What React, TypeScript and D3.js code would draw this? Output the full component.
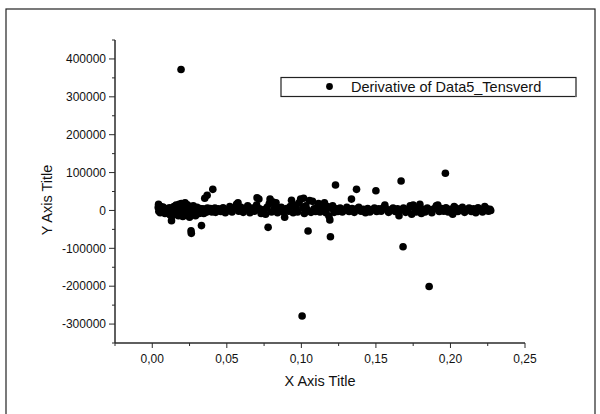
import React from "react";
import * as d3 from "d3";

const seriesName = "Derivative of Data5_Tensverd";
const xTitle = "X Axis Title";
const yTitle = "Y Axis Title";
const xTickValues = [0, 0.05, 0.1, 0.15, 0.2, 0.25];
const xTickLabels = ["0,00", "0,05", "0,10", "0,15", "0,20", "0,25"];
const yTickValues = [-300000, -200000, -100000, 0, 100000, 200000, 300000, 400000];
const yTickLabels = ["-300000", "-200000", "-100000", "0", "100000", "200000", "300000", "400000"];
const xMinorTicks = [-0.025, 0.025, 0.075, 0.125, 0.175, 0.225];
const yMinorTicks = [-350000, -250000, -150000, -50000, 50000, 150000, 250000, 350000, 450000];

const derivX = [
  0.0040, 0.0042, 0.0044, 0.0047, 0.0050, 0.0053, 0.0056, 0.0060, 0.0064, 0.0068,
  0.0072, 0.0076, 0.0080, 0.0085, 0.0090, 0.0095, 0.0100, 0.0105, 0.0110, 0.0115,
  0.0120, 0.0125, 0.0129, 0.0132, 0.0136, 0.0140, 0.0145, 0.0150, 0.0155, 0.0160,
  0.0165, 0.0170, 0.0175, 0.0180, 0.0185, 0.0190, 0.0193, 0.0195, 0.0200, 0.0205,
  0.0210, 0.0215, 0.0220, 0.0225, 0.0230, 0.0235, 0.0240, 0.0245, 0.0250, 0.0255,
  0.0260, 0.0262, 0.0265, 0.0270, 0.0275, 0.0280, 0.0285, 0.0290, 0.0295, 0.0300,
  0.0305, 0.0310, 0.0315, 0.0320, 0.0330, 0.0335, 0.0340, 0.0345, 0.0352, 0.0355,
  0.0360, 0.0368, 0.0370, 0.0375, 0.0380, 0.0385, 0.0390, 0.0395, 0.0400, 0.0406,
  0.0410, 0.0415, 0.0420, 0.0425, 0.0430, 0.0445, 0.0460, 0.0475, 0.0490, 0.0505,
  0.0520, 0.0535, 0.0550, 0.0565, 0.0575, 0.0580, 0.0595, 0.0610, 0.0625, 0.0640,
  0.0655, 0.0670, 0.0685, 0.0700, 0.0703, 0.0715, 0.0720, 0.0730, 0.0745, 0.0760,
  0.0770, 0.0777, 0.0785, 0.0790, 0.0800, 0.0810, 0.0820, 0.0830, 0.0840, 0.0850,
  0.0865, 0.0880, 0.0888, 0.0900, 0.0915, 0.0925, 0.0934, 0.0945, 0.0955, 0.0965,
  0.0975, 0.0985, 0.0995, 0.1005, 0.1010, 0.1015, 0.1020, 0.1030, 0.1040, 0.1045,
  0.1055, 0.1065, 0.1075, 0.1085, 0.1095, 0.1105, 0.1115, 0.1125, 0.1135, 0.1145,
  0.1155, 0.1165, 0.1175, 0.1185, 0.1191, 0.1195, 0.1200, 0.1210, 0.1220, 0.1229,
  0.1235, 0.1245, 0.1260, 0.1275, 0.1290, 0.1305, 0.1320, 0.1336, 0.1340, 0.1355,
  0.1370, 0.1372, 0.1385, 0.1400, 0.1415, 0.1430, 0.1445, 0.1460, 0.1475, 0.1490,
  0.1500, 0.1505, 0.1520, 0.1535, 0.1550, 0.1560, 0.1570, 0.1585, 0.1600, 0.1615,
  0.1630, 0.1645, 0.1655, 0.1669, 0.1670, 0.1682, 0.1685, 0.1700, 0.1715, 0.1730,
  0.1740, 0.1750, 0.1760, 0.1770, 0.1785, 0.1795, 0.1805, 0.1815, 0.1830, 0.1845,
  0.1857, 0.1860, 0.1875, 0.1890, 0.1905, 0.1915, 0.1925, 0.1940, 0.1955, 0.1966,
  0.1970, 0.1985, 0.2000, 0.2015, 0.2025, 0.2035, 0.2050, 0.2065, 0.2080, 0.2095,
  0.2110, 0.2125, 0.2140, 0.2155, 0.2170, 0.2185, 0.2200, 0.2215, 0.2230, 0.2245,
  0.2255, 0.2265, 0.2270,
];

const derivY = [
  8000, 16000, -2000, 12000, 4000, -6000, 10000, 2000, -4000, 6000,
  9000, -3000, 3000, -8000, 5000, 1000, -5000, 4000, -2000, 7000,
  -12000, 2000, -27000, -15000, 6000, -6000, 10000, -10000, 3000, 14000,
  -4000, 8000, -14000, 16000, 0, -10000, 372000, 18000, 6000, -16000,
  12000, -3000, 20000, -12000, 8000, 15000, -6000, 4000, -18000, 10000,
  -53600, -60500, 2000, -10000, 12000, -4000, 6000, -14000, 3000, 8000,
  -6000, 2000, -8000, 5000, -40000, -3000, 4000, -8000, 32000, 2000,
  -5000, 40000, 6000, -3000, 3000, -2000, 5000, 0, -4000, 55700,
  3000, -2000, 6000, -5000, 2000, 4000, -3000, 7000, -6000, 2000,
  10000, -4000, 5000, 16000, 20000, -2000, 8000, -5000, 3000, 12000,
  -6000, 6000, -2000, 14000, 33500, 30000, 4000, -8000, 2000, -10000,
  8000, -44600, 18000, 30000, -4000, 22000, 6000, 20000, -6000, 3000,
  8000, -4000, -18000, 5000, -2000, 10000, 27000, -6000, 14000, 4000,
  -4000, 20000, 30000, -278600, 8000, 32000, -8000, 12000, 2000, -54400,
  26000, -5000, 24000, 4000, -3000, 8000, 18000, -4000, 6000, 14000,
  20000, -6000, 10000, -15000, -25000, -69400, 6000, 12000, -5000, 67000,
  4000, -3000, 6000, -4000, 2000, 8000, -3000, 30000, 5000, -5000,
  55700, 4000, 8000, -2000, 3000, -6000, 5000, -4000, 2000, 6000,
  52000, -3000, 4000, -2000, 7000, 14000, 3000, -5000, 2000, 6000,
  -3000, 4000, -14000, 77600, 2000, -95800, 6000, -5000, 3000, 12000,
  -10000, 14000, 5000, -4000, 8000, 16000, -8000, 3000, -4000, 6000,
  -201000, 2000, -6000, 4000, 12000, 14000, -3000, 5000, -2000, 98000,
  7000, -4000, 3000, -10000, 10000, 6000, -3000, 4000, 8000, -5000,
  2000, 6000, -3000, 4000, -6000, 7000, 2000, -4000, 10000, 4000,
  -2000, 3000, 0,
];

const FONT = "'Liberation Sans', Arial, Helvetica, sans-serif";

export default function App() {
  const x = d3.scaleLinear().domain([-0.025, 0.25]).range([115, 525]);
  const y = d3.scaleLinear().domain([-350000, 450000]).range([343, 40]);
  const points = derivX.map((v, i) => [v, derivY[i]] as [number, number]);
  const axisColor = "#2a2a2a";

  return (
    <svg
      width={600}
      height={414}
      style={{ position: "absolute", left: 0, top: 0, background: "#fff" }}
      fontFamily={FONT}
    >
      <rect x={0} y={0} width={600} height={414} fill="#fff" />
      {/* page frame */}
      <rect x={6} y={9} width={589} height={500} fill="none" stroke="#222" strokeWidth={1.2} />

      {/* data */}
      <g fill="#000">
        {points.map((p, i) => (
          <circle key={i} cx={x(p[0])} cy={y(p[1])} r={3.8} />
        ))}
      </g>

      {/* axes */}
      <g stroke={axisColor} strokeWidth={1.5} fill="none">
        <line x1={x(-0.025)} y1={y(-350000)} x2={x(-0.025)} y2={y(450000)} />
        <line x1={x(-0.025)} y1={y(-350000)} x2={x(0.25)} y2={y(-350000)} />
      </g>
      <g stroke={axisColor} strokeWidth={1}>
        {yTickValues.map((v) => (
          <line key={"ym" + v} x1={x(-0.025) - 6} x2={x(-0.025)} y1={y(v)} y2={y(v)} />
        ))}
        {yMinorTicks.map((v) => (
          <line key={"yn" + v} x1={x(-0.025) - 3} x2={x(-0.025)} y1={y(v)} y2={y(v)} />
        ))}
        {xTickValues.map((v) => (
          <line key={"xm" + v} x1={x(v)} x2={x(v)} y1={y(-350000)} y2={y(-350000) + 5} />
        ))}
        {xMinorTicks.map((v) => (
          <line key={"xn" + v} x1={x(v)} x2={x(v)} y1={y(-350000)} y2={y(-350000) + 3} />
        ))}
      </g>
      <g fontSize={12} fill="#111">
        {yTickValues.map((v, i) => (
          <text key={"yl" + v} x={x(-0.025) - 9} y={y(v) + 4.2} textAnchor="end">
            {yTickLabels[i]}
          </text>
        ))}
        {xTickValues.map((v, i) => (
          <text key={"xl" + v} x={x(v)} y={363} textAnchor="middle">
            {xTickLabels[i]}
          </text>
        ))}
      </g>
      <text x={320} y={385.5} textAnchor="middle" fontSize={14.5} fill="#111">
        {xTitle}
      </text>
      <text
        transform={`translate(51.5,200) rotate(-90)`}
        textAnchor="middle"
        fontSize={14.5}
        fill="#111"
      >
        {yTitle}
      </text>

      {/* legend */}
      <rect x={281} y={77.5} width={295} height={19} fill="#fff" stroke="#222" strokeWidth={1.2} />
      <line x1={576} y1={78} x2={576} y2={97} stroke="#777" strokeWidth={1.5} />
      <circle cx={329.5} cy={86.5} r={3.4} fill="#000" />
      <text x={351} y={91.5} fontSize={14.5} fill="#111">
        {seriesName}
      </text>
    </svg>
  );
}
